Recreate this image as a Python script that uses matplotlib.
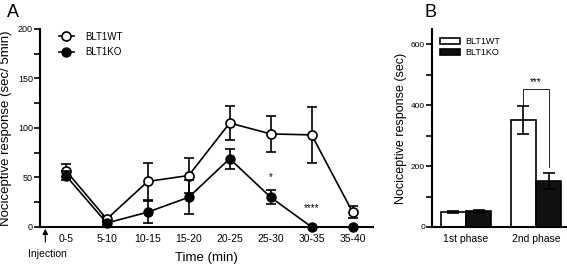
import numpy as np
import matplotlib
matplotlib.use("Agg")
import matplotlib.pyplot as plt
from matplotlib.lines import Line2D

plt.rcParams['font.family'] = ['Liberation Sans', 'DejaVu Sans']

# panel A: time course
time_bins = ["0-5", "5-10", "10-15", "15-20", "20-25", "25-30", "30-35", "35-40"]
wt_mean = [57, 8, 46, 52, 105, 94, 93, 15]
wt_sem = [7, 3, 19, 18, 17, 18, 28, 6]
ko_mean = [52, 4, 15, 30, 69, 30, 0, 0]
ko_sem = [5, 2, 11, 17, 10, 7, 0, 0]
stars_a = {"25-30": ("*", 50), "30-35": ("****", 19)}

# panel B: phases
phases = ["1st phase", "2nd phase"]
wt_phase = [50, 352]
wt_phase_sem = [3, 46]
ko_phase = [52, 150]
ko_phase_sem = [5, 26]

fig = plt.figure(figsize=(5.67, 2.68), dpi=100)

lw = 1.2

def style_axis(ax):
    for s in ["top", "right"]:
        ax.spines[s].set_visible(False)
    for s in ["left", "bottom"]:
        ax.spines[s].set_linewidth(1.5)
    ax.tick_params(axis="y", which="both", length=4, width=1.2, pad=1)
    ax.tick_params(axis="x", length=0, pad=5)

# ---- A ----
axA = fig.add_axes([0.0705, 0.153, 0.5875, 0.739])
x = np.arange(len(time_bins))
axA.errorbar(x, wt_mean, yerr=wt_sem, color="black", lw=lw, marker="o",
             ms=6.5, mfc="white", mec="black", mew=1.2, capsize=3.5,
             elinewidth=lw, capthick=lw, zorder=3, clip_on=False)
axA.errorbar(x, ko_mean, yerr=ko_sem, color="black", lw=lw, marker="o",
             ms=6.5, mfc="black", mec="black", capsize=3.5,
             elinewidth=lw, capthick=lw, zorder=4, clip_on=False)
for k, (s, yv) in stars_a.items():
    axA.text(time_bins.index(k), yv, s, ha="center", va="center", fontsize=7)
axA.set_xlim(-0.63, 7.5)
axA.set_ylim(0, 200)
axA.set_xticks(x)
axA.set_xticklabels(time_bins, fontsize=7.5)
axA.set_yticks([0, 50, 100, 150, 200])
axA.set_yticks(np.arange(25, 200, 50), minor=True)
axA.tick_params(axis="y", labelsize=6.5)
style_axis(axA)
axA.set_xlabel("Time (min)", fontsize=9.5, labelpad=6)
axA.set_ylabel("Nociceptive response (sec/ 5min)", fontsize=9.5, labelpad=4)
handles = [
    Line2D([], [], color="black", lw=lw, marker="o", ms=6.5, mfc="white", mec="black", mew=1.2),
    Line2D([], [], color="black", lw=lw, marker="o", ms=6.5, mfc="black", mec="black"),
]
axA.legend(handles, ["BLT1WT", "BLT1KO"], loc="upper left",
           bbox_to_anchor=(0.03, 1.03), frameon=False,
           fontsize=7, handlelength=1.6, handletextpad=1.1, labelspacing=0.55)
axA.annotate("", xy=(-0.5, 1), xytext=(-0.5, -18),
             arrowprops=dict(arrowstyle="-|>", color="black", lw=0.8,
                             mutation_scale=8),
             annotation_clip=False)
axA.text(-0.45, -27, "Injection", ha="center", va="center", fontsize=7.5)
fig.text(0.012, 0.955, "A", fontsize=13, va="center")

# ---- B ----
axB = fig.add_axes([0.762, 0.153, 0.245, 0.739])
xb = np.arange(len(phases))
w = 0.36
axB.bar(xb - w / 2, wt_phase, width=w, color="white", edgecolor="black",
        lw=1.2, yerr=wt_phase_sem, capsize=4,
        error_kw=dict(elinewidth=lw, capthick=lw), label="BLT1WT")
axB.bar(xb + w / 2, ko_phase, width=w, color="#111111", edgecolor="black",
        lw=1.2, yerr=ko_phase_sem, capsize=4,
        error_kw=dict(elinewidth=lw, capthick=lw), label="BLT1KO")
# significance bracket
top = 452
xl, xr = xb[1] - w / 2, xb[1] + w / 2
axB.plot([xl, xl, xr, xr],
         [wt_phase[1] + wt_phase_sem[1], top, top, ko_phase[1] + ko_phase_sem[1] + 20],
         color="black", lw=0.6)
axB.text(xb[1], top + 25, "***", ha="center", va="center", fontsize=7)
axB.set_xlim(-0.485, 1.5)
axB.set_ylim(0, 650)
axB.set_xticks(xb)
axB.set_xticklabels(phases, fontsize=7.5)
axB.set_yticks([0, 200, 400, 600])
axB.set_yticks([100, 300, 500], minor=True)
axB.tick_params(axis="y", labelsize=6)
style_axis(axB)
axB.set_ylabel("Nociceptive response (sec)", fontsize=9, labelpad=3)
axB.legend(loc="upper left", bbox_to_anchor=(0.0, 1.0), frameon=False,
           fontsize=6.5, handlelength=2.2, handleheight=0.6,
           handletextpad=0.6, labelspacing=0.2)
fig.text(0.748, 0.955, "B", fontsize=13, va="center")

fig.savefig("out.png", dpi=100)
